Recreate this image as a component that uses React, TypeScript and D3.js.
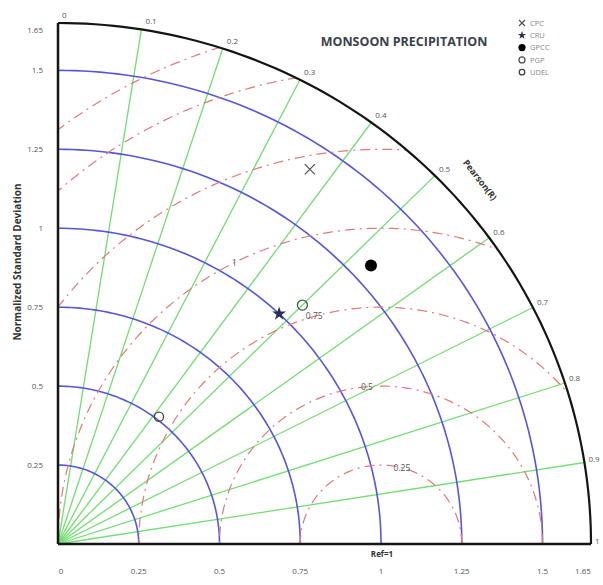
import React from 'react';
import * as d3 from 'd3';

const models = ['CPC', 'CRU', 'GPCC', 'PGP', 'UDEL'];
const stdDev = [1.42, 1.0, 1.31, 1.07, 0.51];
const pearson = [0.37, 0.48, 0.53, 0.5, 0.42];

const stdTicks = [0.25, 0.5, 0.75, 1, 1.25, 1.5];
const stdLabels = ['0', '0.25', '0.5', '0.75', '1', '1.25', '1.5', '1.65'];
const corrTicks = [0.1, 0.2, 0.3, 0.4, 0.5, 0.6, 0.7, 0.8, 0.9];
const corrLabels = ['0', '0.1', '0.2', '0.3', '0.4', '0.5', '0.6', '0.7', '0.8', '0.9', '1'];
const rmsdArcs = [0.25, 0.5, 0.75, 1, 1.25, 1.5, 1.65];
const rmsdLabels = ['0.25', '0.5', '0.75', '1'];
const rmsdLabelAngle = [75, 95, 106, 117];

const MAX = 1.65;
const REF = 1;

const width = 603;
const height = 585;

const sx = d3.scaleLinear().domain([0, MAX]).range([58, 591]);
const sy = d3.scaleLinear().domain([0, MAX]).range([544, 23]);

// correlation maps linearly to angle in this chart
const theta = (r: number) => (1 - r) * Math.PI / 2;
const polar = (s: number, r: number): [number, number] => [
  sx(s * Math.cos(theta(r))),
  sy(s * Math.sin(theta(r))),
];

const line = d3.line<[number, number]>().x(d => d[0]).y(d => d[1]);

const quarter = (s: number) =>
  line(d3.range(0, 91).map(i => {
    const a = (i / 90) * Math.PI / 2;
    return [sx(s * Math.cos(a)), sy(s * Math.sin(a))] as [number, number];
  }));

const rmsdPath = (r: number) =>
  line(d3.range(0, 361).map(i => {
    const a = (i / 360) * Math.PI;
    return [sx(REF + r * Math.cos(a)), sy(r * Math.sin(a))] as [number, number];
  }));

const clipD = (() => {
  const pts: [number, number][] = [[sx(0), sy(0)]];
  d3.range(0, 91).forEach(i => {
    const a = (i / 90) * Math.PI / 2;
    pts.push([sx(MAX * Math.cos(a)), sy(MAX * Math.sin(a))]);
  });
  return line(pts) + 'Z';
})();

const font = "'Open Sans', 'Noto Sans', sans-serif";

function Marker({ name, x, y, legend }: { name: string; x: number; y: number; legend?: boolean }) {
  const k = legend ? 0.6 : 1;
  if (name === 'CPC') {
    return <path d={d3.symbol(d3.symbolX, 70 * k * k)()!} transform={`translate(${x},${y})`}
      fill="none" stroke="#555" strokeWidth={1.3} />;
  }
  if (name === 'CRU') {
    return <path d={d3.symbol(d3.symbolStar, 60 * k * k)()!} transform={`translate(${x},${y})`}
      fill="#2a2f55" />;
  }
  if (name === 'GPCC') {
    return <circle cx={x} cy={y} r={6 * k} fill="#000" />;
  }
  if (name === 'PGP') {
    return <circle cx={x} cy={y} r={5 * k} fill="none" stroke={legend ? '#555' : '#3c5c3c'} strokeWidth={1.3} />;
  }
  return <circle cx={x} cy={y} r={4.6 * k} fill="none" stroke="#444" strokeWidth={1.3} />;
}

export default function App() {
  return (
    <svg width={width} height={height} style={{ position: 'absolute', left: 0, top: 0, background: '#fff' }}
      fontFamily={font}>
      <defs>
        <clipPath id="quad">
          <path d={clipD} />
        </clipPath>
      </defs>

      {/* correlation rays */}
      {corrTicks.map(r => {
        const [x, y] = polar(MAX, r);
        return <line key={r} x1={sx(0)} y1={sy(0)} x2={x} y2={y} stroke="#72dd72" strokeWidth={1.3} />;
      })}

      {/* std dev arcs */}
      {stdTicks.map(s => (
        <path key={s} d={quarter(s)!} fill="none" stroke="#5656d8" strokeWidth={1.6} />
      ))}

      {/* rmsd arcs around reference */}
      <g clipPath="url(#quad)">
        {rmsdArcs.map(r => (
          <path key={r} d={rmsdPath(r)!} fill="none" stroke="#e47878" strokeWidth={1.2}
            strokeDasharray="10,5,2,5" />
        ))}
      </g>
      {rmsdLabels.map((t, i) => {
        const r = rmsdArcs[i];
        const a = rmsdLabelAngle[i] * Math.PI / 180;
        return (
          <text key={t} x={sx(REF + r * Math.cos(a))} y={sy(r * Math.sin(a))} dy="0.35em"
            textAnchor="middle" fontSize={8.5} fill="#555">{t}</text>
        );
      })}

      {/* frame */}
      <path d={quarter(MAX)!} fill="none" stroke="#151515" strokeWidth={2.2} />
      <line x1={sx(0)} y1={sy(0)} x2={sx(0)} y2={sy(MAX)} stroke="#151515" strokeWidth={2.5} />
      <line x1={sx(0)} y1={sy(0)} x2={sx(MAX)} y2={sy(0)} stroke="#151515" strokeWidth={2.5} />

      {/* bottom ticks */}
      {[0, ...stdTicks, MAX].map((s, i) => (
        <text key={'b' + s} x={sx(s) - (s === MAX ? 8 : 0) + (s === 0 ? 3 : 0)} y={574}
          textAnchor="middle" fontSize={8} fill="#555">{stdLabels[i]}</text>
      ))}
      {/* left ticks */}
      {[...stdTicks, MAX].map((s, i) => (
        <text key={'l' + s} x={43} y={sy(s) + (s === MAX ? 7 : 0)} dy="0.35em"
          textAnchor="end" fontSize={8} fill="#555">{stdLabels[i + 1]}</text>
      ))}

      {/* correlation labels */}
      {[0, ...corrTicks, 1].map((r, i) => {
        const [x, y] = polar(MAX, r);
        const a = theta(r);
        return (
          <text key={'c' + r} x={x + 4} y={y - 3 - 5 * Math.sin(a)} dy="0.35em"
            fontSize={8} fill="#555">{corrLabels[i]}</text>
        );
      })}

      {/* markers */}
      {models.map((m, i) => {
        const [x, y] = polar(stdDev[i], pearson[i]);
        return <Marker key={m} name={m} x={x} y={y} />;
      })}

      {/* legend */}
      {models.map((m, i) => (
        <g key={'lg' + m}>
          <Marker name={m} x={522} y={23 + i * 12.3} legend />
          <text x={530} y={23 + i * 12.3} dy="0.35em" fontSize={7.5} fill="#888">{m}</text>
        </g>
      ))}

      {/* titles */}
      <text x={404} y={46} textAnchor="middle" fontSize={12.5} fontWeight="bold" fill="#3b3f4a">
        MONSOON PRECIPITATION
      </text>
      <text transform="translate(480,180) rotate(52)" textAnchor="middle" dy="0.35em"
        fontSize={9} fontWeight="bold" fill="#333">Pearson(R)</text>
      <text transform="translate(17,262) rotate(-90)" textAnchor="middle" dy="0.35em"
        fontSize={10} fontWeight="bold" fill="#333">Normalized Standard Deviation</text>
      <text x={382} y={557} textAnchor="middle" fontSize={8} fontWeight="bold" fill="#333">Ref=1</text>
    </svg>
  );
}
